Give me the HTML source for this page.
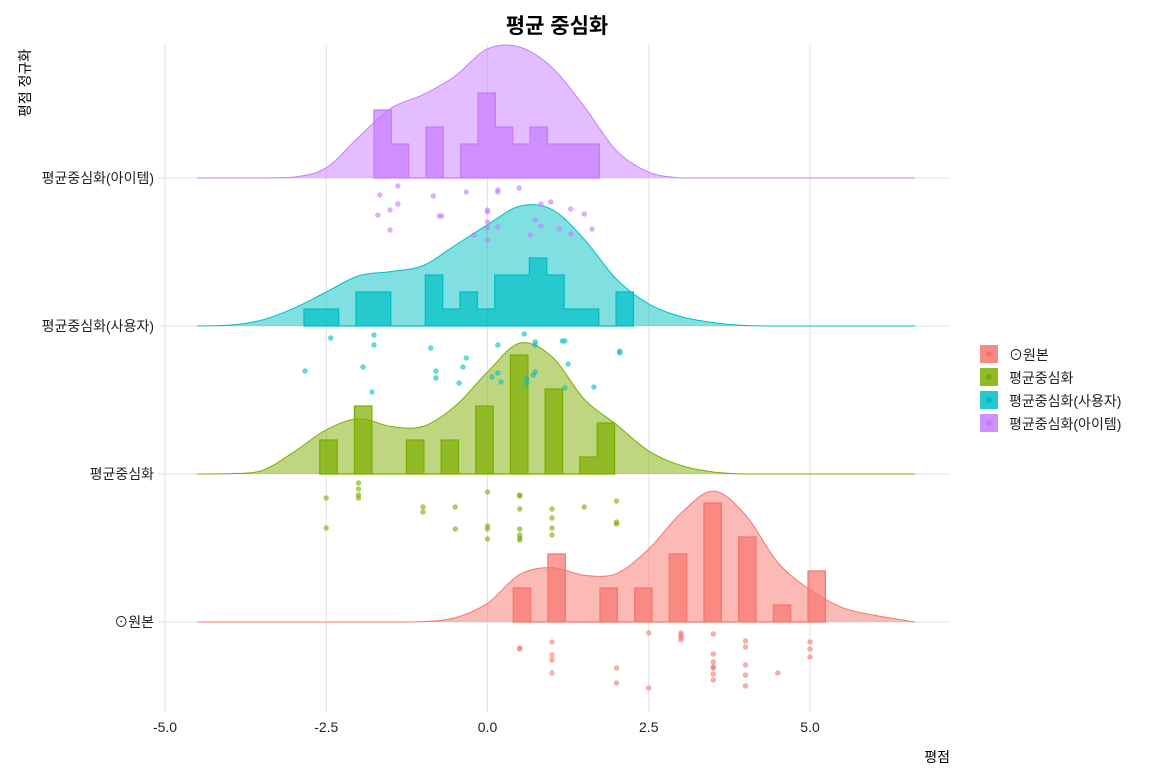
<!DOCTYPE html>
<html><head><meta charset="utf-8">
<style>
html,body{margin:0;padding:0;background:#fff;}
svg text{font-family:"Liberation Sans","Noto Sans CJK KR",sans-serif;}
</style></head>
<body>
<svg id="chart" width="1150" height="776" viewBox="0 0 1150 776" xmlns="http://www.w3.org/2000/svg">
<g id="grid"></g>
<g id="dens"></g>
<g id="hist"></g>
<g id="pts"></g>
<g id="axes"></g>
<text x="557" y="33" text-anchor="middle" font-size="21" font-weight="bold" fill="#000">평균 중심화</text>
<text transform="translate(30,83) rotate(-90)" text-anchor="middle" font-size="14" fill="#000">평점 정규화</text>
<text x="950" y="762" text-anchor="end" font-size="14" fill="#000">평점</text>
<g id="legend"></g>
</svg>
<script>
const categories = ["⊙원본","평균중심화","평균중심화(사용자)","평균중심화(아이템)"];
const colors = ["#F8766D","#7CAE00","#00BFC4","#C77CFF"];
const xTicks = [-5, -2.5, 0, 2.5, 5];
const xTickLabels = ["-5.0","-2.5","0.0","2.5","5.0"];

const densX = [-4.5,-4,-3.5,-3,-2.5,-2,-1.5,-1,-0.5,0,0.5,1,1.5,2,2.5,3,3.5,4,4.5,5,5.5,6,6.63];
const densRed    = [0,0,0,0,0,0,0,0.02,0.25,1.1,2.8,3.2,2.75,2.85,4.3,6.4,7.7,6.3,3.5,1.9,0.85,0.4,0];
const densGreen  = [0,0.02,0.2,1.3,2.6,3.25,2.8,2.8,4.0,6.0,7.7,6.9,4.4,2.9,1.35,0.5,0.12,0,0,0,0,0,0];
const densCyan   = [0,0.05,0.35,1.05,2.0,2.95,3.2,3.55,4.75,5.95,7.05,6.85,5.1,2.75,1.3,0.55,0.2,0.03,0,0,0,0,0];
const densPurple = [0,0,0,0.05,0.6,2.4,4.1,4.9,6.0,7.6,7.7,6.5,4.2,1.6,0.35,0,0,0,0,0,0,0,0];

const binWidth = 0.2688;
const histStart = [0.40, -2.6, -2.845, -1.76];
const countsRed    = [2,0,4,0,0,2,0,2,0,4,0,7,0,5,0,1,0,3];
const countsGreen  = [2,0,4,0,0,2,0,2,0,4,0,7,0,5,0,1,3];
const countsCyan   = [1,1,0,2,2,0,0,3,1,2,1,3,3,4,3,1,1,0,2];
const countsPurple = [4,2,0,3,0,2,5,3,2,3,2,2,2];

const ptsRedX   = [0.5,0.5,1,1,1,1,2,2,2.5,2.5,3,3,3,3,3.5,3.5,3.5,3.5,3.5,3.5,3.5,4,4,4,4,4,4.5,5,5,5];
const ptsRedJ   = [26,27,20,33,38,51,46,61,11,66,11,13,18,15,12,32,45,46,52,58,40,19,25,43,53,64,51,20,27,35];
const ptsGreenX = [-2.5,-2.5,-2,-2,-2,-2,-1,-1,-0.5,-0.5,0,0,0,0,0.5,0.5,0.5,0.5,0.5,0.5,0.5,1,1,1,1,1.5,2,2,2];
const ptsGreenJ = [24,54,9,15,21,24,33,38,33,55,18,52,55,65,21,22,35,55,61,66,64,35,44,54,61,33,27,48,50];
const ptsCyanX  = [-2.43,-1.76,-1.76,-2.83,-1.93,-1.79,-0.88,-0.8,-0.8,-0.44,-0.38,-0.33,0.16,0.57,0.74,0.74,1.16,1.2,1.25,1.65,2.05,2.05,0.07,0.16,0.21,0.61,0.61,0.71,0.74,1.2];
const ptsCyanJ  = [12,9,19,45,41,66,22,45,52,57,41,32,19,8,16,19,15,15,38,61,25,27,51,47,56,53,57,49,46,62];
const ptsPurpleX= [-1.39,-1.67,-1.39,-1.51,-1.7,-1.51,-0.84,-0.75,-0.71,-0.33,0,0,0,0,0,0.16,0.16,0.16,0.49,-0.21,0.66,0.74,0.83,0.83,0.98,1.11,1.29,1.29,1.5,1.62];
const ptsPurpleJ= [8,17,26,32,37,52,18,38,38,14,32,34,44,50,62,12,14,49,10,57,57,42,26,48,24,51,31,56,36,51];

const densAll = [densRed, densGreen, densCyan, densPurple];
const countsAll = [countsRed, countsGreen, countsCyan, countsPurple];
const ptsX = [ptsRedX, ptsGreenX, ptsCyanX, ptsPurpleX];
const ptsJ = [ptsRedJ, ptsGreenJ, ptsCyanJ, ptsPurpleJ];

const NS = "http://www.w3.org/2000/svg";
function xs(v){ return 487.5 + 64.5*v; }
function base(i){ return 622 - 148*i; }
function hs(v){ return 17*v; }
function mk(tag, attrs, parent){
  const e = document.createElementNS(NS, tag);
  for (const k in attrs) e.setAttribute(k, attrs[k]);
  parent.appendChild(e); return e;
}
const gGrid = document.getElementById('grid');
const gDens = document.getElementById('dens');
const gHist = document.getElementById('hist');
const gPts = document.getElementById('pts');
const gAxes = document.getElementById('axes');
const gLeg = document.getElementById('legend');

xTicks.forEach((t,k)=>{
  const l = mk('line',{x1:xs(t),x2:xs(t),y1:44,y2:712,stroke:'#e3e3e3','stroke-width':1},gGrid);
  
  
  const tx = mk('text',{x:xs(t),y:732,'text-anchor':'middle','font-size':14,fill:'#222'},gAxes);
  tx.textContent = xTickLabels[k];
  
  
});
categories.forEach((c,i)=>{
  const l = mk('line',{x1:158,x2:950,y1:base(i),y2:base(i),stroke:'#e3e3e3','stroke-width':1},gGrid);
  
  
  const tx = mk('text',{x:154,y:base(i)+5,'text-anchor':'end','font-size':14,fill:'#222'},gAxes);
  tx.textContent = c;
  
  
});

function smoothPath(pts){
  let d = 'M'+pts[0][0]+','+pts[0][1];
  for (let i=0;i<pts.length-1;i++){
    const p0=pts[Math.max(0,i-1)], p1=pts[i], p2=pts[i+1], p3=pts[Math.min(pts.length-1,i+2)];
    const c1x=p1[0]+(p2[0]-p0[0])/6, c1y=p1[1]+(p2[1]-p0[1])/6;
    const c2x=p2[0]-(p3[0]-p1[0])/6, c2y=p2[1]-(p3[1]-p1[1])/6;
    d+=' C'+c1x+','+Math.min(c1y,base0)+' '+c2x+','+Math.min(c2y,base0)+' '+p2[0]+','+p2[1];
  }
  return d;
}
let base0 = 0;
for (let i=3;i>=0;i--){
  const b = base(i); base0 = b;
  const pts = densX.map((x,k)=>[xs(x), b - hs(densAll[i][k])]);
  const d = smoothPath(pts);
  const area = mk('path',{d:d+' L'+xs(densX[densX.length-1])+','+b+' L'+xs(densX[0])+','+b+' Z',fill:colors[i],'fill-opacity':0.5,stroke:'none'},gDens);
  
  
  const line = mk('path',{d:d,fill:'none',stroke:colors[i],'stroke-width':1},gDens);
  
  
}
for (let i=3;i>=0;i--){
  const b = base(i), cs = countsAll[i], s = histStart[i];
  let d = 'M'+xs(s)+','+b;
  cs.forEach((c,k)=>{
    const x0 = xs(s+k*binWidth), x1 = xs(s+(k+1)*binWidth);
    d += ' L'+x0+','+(b-hs(c))+' L'+x1+','+(b-hs(c));
  });
  d += ' L'+xs(s+cs.length*binWidth)+','+b+' Z';
  const h = mk('path',{d:d,fill:colors[i],'fill-opacity':0.7,stroke:colors[i],'stroke-width':1.3},gHist);
  
  
}
for (let i=0;i<4;i++){
  ptsX[i].forEach((x,k)=>{
    const c = mk('circle',{cx:xs(x),cy:base(i)+ptsJ[i][k],r:2.4,fill:colors[i],'fill-opacity':0.6,stroke:colors[i],'stroke-opacity':0.5,'stroke-width':0.6},gPts);
    
    
  });
}
categories.forEach((c,i)=>{
  const y = 345 + i*23;
  const r = mk('rect',{x:980,y:y,width:18,height:18,fill:colors[i],'fill-opacity':0.85},gLeg);
  
  
  const dt = mk('circle',{cx:989,cy:y+9,r:2.4,fill:colors[i],stroke:'#000','stroke-opacity':0.08},gLeg);
  
  
  const t = mk('text',{x:1009,y:y+15,'font-size':14,fill:'#222'},gLeg);
  t.textContent = c;
  
  
});
</script>
</body></html>
